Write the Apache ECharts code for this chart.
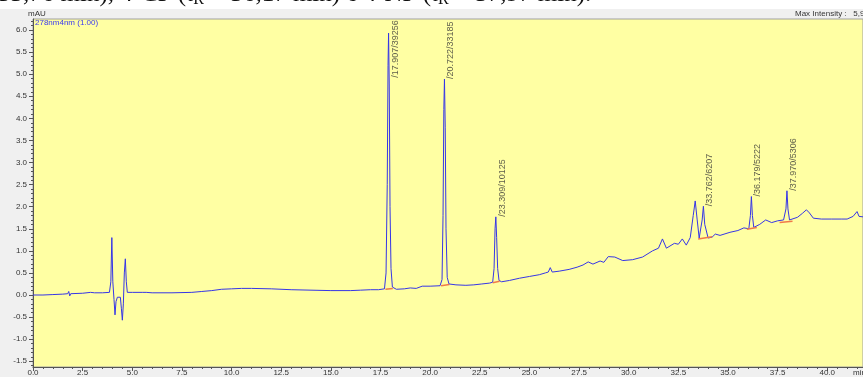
<!DOCTYPE html>
<html>
<head>
<meta charset="utf-8">
<script src="https://cdn.jsdelivr.net/npm/echarts@6/dist/echarts.min.js"></script>
<style>
  html, body { margin: 0; padding: 0; background: #fff; overflow: hidden; }
  #chart { width: 863px; height: 377px; }
</style>
</head>
<body>
<div id="chart"></div>
<script>
// chromatogram trace [time (min), absorbance (mAU)]
const trace = [
  [0, 0.0], [0.5, 0.0], [1.0, 0.01], [1.5, 0.02], [1.75, 0.03], [1.8, 0.08], [1.85, -0.02], [1.9, 0.03],
  [2.5, 0.04], [2.9, 0.06], [3.1, 0.05], [3.5, 0.05], [3.85, 0.06],
  [3.92, 0.3], [3.97, 1.3], [4.02, 0.3], [4.08, -0.1], [4.13, -0.45], [4.18, -0.15], [4.25, -0.05],
  [4.4, -0.05], [4.45, -0.3], [4.5, -0.57], [4.55, -0.2], [4.6, 0.5], [4.65, 0.82], [4.7, 0.3], [4.75, 0.06],
  [5.0, 0.06], [5.5, 0.06], [5.6, 0.1], [5.7, 0.06], [6.0, 0.05], [7.0, 0.05], [8.0, 0.06], [8.5, 0.08],
  [9.0, 0.1], [9.5, 0.13], [10.0, 0.14], [10.5, 0.15], [11.0, 0.15], [12.0, 0.14], [13.0, 0.12], [14.0, 0.11],
  [15.0, 0.1], [16.0, 0.1], [16.5, 0.11], [17.0, 0.12], [17.4, 0.12], [17.7, 0.14],
  [17.78, 0.5], [17.84, 2.5], [17.88, 5.2], [17.907, 5.93], [17.94, 4.8], [17.98, 2.0], [18.03, 0.6], [18.1, 0.18],
  [18.3, 0.13], [18.7, 0.14], [19.0, 0.16], [19.3, 0.15], [19.6, 0.2], [20.0, 0.2], [20.5, 0.21],
  [20.6, 0.35], [20.65, 1.8], [20.69, 4.2], [20.722, 4.89], [20.76, 3.8], [20.8, 1.5], [20.86, 0.4], [20.95, 0.25],
  [21.3, 0.23], [21.8, 0.22], [22.2, 0.23], [22.6, 0.25], [23.0, 0.27], [23.15, 0.29],
  [23.22, 0.6], [23.27, 1.5], [23.309, 1.77], [23.35, 1.3], [23.4, 0.6], [23.47, 0.33],
  [23.6, 0.3], [24.0, 0.33], [24.5, 0.38], [25.0, 0.42], [25.5, 0.46], [25.8, 0.5], [25.95, 0.52], [26.05, 0.62],
  [26.15, 0.52], [26.5, 0.54], [27.0, 0.58], [27.4, 0.63], [27.7, 0.68], [27.96, 0.75], [28.2, 0.7],
  [28.56, 0.77], [28.75, 0.74], [28.97, 0.87], [29.3, 0.86], [29.7, 0.78], [30.2, 0.8], [30.7, 0.86],
  [31.2, 1.0], [31.5, 1.06], [31.7, 1.27], [31.9, 1.06], [32.3, 1.17], [32.5, 1.15], [32.7, 1.27],
  [32.9, 1.13], [33.1, 1.3], [33.25, 1.8], [33.35, 2.13], [33.45, 1.7], [33.55, 1.29],
  [33.7, 1.7], [33.762, 2.01], [33.83, 1.6], [34.0, 1.29], [34.2, 1.31], [34.36, 1.38], [34.6, 1.35],
  [35.1, 1.42], [35.5, 1.46], [35.8, 1.52], [36.05, 1.5], [36.13, 1.8], [36.179, 2.23], [36.23, 1.8],
  [36.3, 1.53], [36.6, 1.6], [36.9, 1.7], [37.2, 1.64], [37.5, 1.68], [37.8, 1.7], [37.92, 1.95],
  [37.97, 2.36], [38.02, 1.95], [38.1, 1.7], [38.5, 1.76], [38.75, 1.85], [38.95, 1.93], [39.1, 1.86],
  [39.3, 1.74], [39.7, 1.72], [40.2, 1.72], [40.7, 1.72], [41.0, 1.72], [41.3, 1.78], [41.5, 1.89],
  [41.6, 1.78], [41.8, 1.77]
];

// integrated peaks: retention time, height, area
const peakTimes = [17.907, 20.722, 23.309, 33.762, 36.179, 37.970];
const peakHeights = [5.93, 4.89, 1.77, 2.01, 2.23, 2.36];
const peakAreas = [39256, 33185, 10125, 6207, 5222, 5306];

// integration baselines [start time, start value, end time, end value]
const baselines = [
  [17.75, 0.13, 18.12, 0.15],
  [20.55, 0.21, 20.97, 0.24],
  [23.15, 0.28, 23.5, 0.31],
  [33.5, 1.27, 34.2, 1.32],
  [35.95, 1.49, 36.45, 1.53],
  [37.6, 1.64, 38.25, 1.67]
];

const yTicks = [-1.5, -1.0, -0.5, 0.0, 0.5, 1.0, 1.5, 2.0, 2.5, 3.0, 3.5, 4.0, 4.5, 5.0, 5.5, 6.0];

const yMin = -1.63, yMax = 6.25;
const labelRoom = 1.33; // vertical space a peak label needs, in mAU

const yMinor = [];
for (let v = -1.6; v <= 6.21; v += 0.1) yMinor.push(Math.round(v * 10) / 10);

const axisFont = { fontSize: 8, color: '#333', fontFamily: 'Liberation Sans, Arial, sans-serif' };

let myChart = echarts.init(document.getElementById('chart'));
myChart.setOption({
  animation: false,
  backgroundColor: '#fff',
  graphic: [
    { type: 'rect', z: -10, shape: { x: 0, y: 9, width: 863, height: 368 }, style: { fill: '#f0f0f0' } },
    {
      // caption line of the surrounding document, mostly cut off at the top
      type: 'text', x: -2, y: -20, z: -20,
      style: {
        text: '33,76 min), 4-CP (t{s|R} = 36,17 min) e 4-NP (t{s|R} = 37,97 min).',
        font: '25px "Liberation Serif", "Times New Roman", serif',
        fill: '#111',
        rich: { s: { fontSize: 16, fontFamily: 'Liberation Serif', padding: [12, 0, 0, 0] } }
      }
    },
    { type: 'text', left: 28, top: 10, style: { text: 'mAU', font: '8px "Liberation Sans", Arial', fill: '#333' } },
    { type: 'text', left: 35, top: 19, z: 10, style: { text: '278nm4nm (1.00)', font: '8px "Liberation Sans", Arial', fill: '#3a3af0' } },
    { type: 'text', left: 795, top: 10, style: { text: 'Max Intensity :   5,935', font: '8px "Liberation Sans", Arial', fill: '#333' } },
    { type: 'text', left: 853, top: 369, style: { text: 'min', font: '8px "Liberation Sans", Arial', fill: '#333' } }
  ],
  grid: {
    left: 33, right: 0, top: 19, bottom: 10,
    show: true, backgroundColor: '#ffffa3', borderColor: '#a0a0a0', borderWidth: 1
  },
  xAxis: {
    type: 'value', min: 0, max: 41.8, interval: 2.5,
    axisLine: { onZero: false, lineStyle: { color: '#555' } },
    axisTick: { length: 4, lineStyle: { color: '#555' } },
    minorTick: { show: true, splitNumber: 5, length: 2, lineStyle: { color: '#555' } },
    splitLine: { show: false },
    axisLabel: Object.assign({ margin: 2, showMaxLabel: false, formatter: v => v.toFixed(1) }, axisFont)
  },
  yAxis: [
    {
      type: 'value', min: yMin, max: yMax,
      axisLine: { show: true, onZero: false, lineStyle: { color: '#555' } },
      axisTick: { show: true, length: 4, customValues: yTicks, lineStyle: { color: '#555' } },
      splitLine: { show: false },
      axisLabel: Object.assign({ margin: 6, customValues: yTicks, formatter: v => v.toFixed(1) }, axisFont)
    },
    {
      type: 'value', min: yMin, max: yMax, position: 'left',
      axisLine: { show: false, onZero: false },
      axisTick: { show: true, length: 2, customValues: yMinor, lineStyle: { color: '#555' } },
      axisLabel: { show: false },
      splitLine: { show: false }
    }
  ],
  series: [
    {
      name: 'trace',
      type: 'line',
      data: trace,
      showSymbol: false,
      lineStyle: { color: '#3636e6', width: 1 },
      z: 3
    },
    {
      name: 'baselines',
      type: 'lines',
      coordinateSystem: 'cartesian2d',
      data: baselines.map(b => ({ coords: [[b[0], b[1]], [b[2], b[3]]] })),
      lineStyle: { color: '#f07a4a', width: 1.5, opacity: 1 },
      z: 4
    },
    {
      name: 'labels',
      type: 'scatter',
      symbolSize: 0,
      data: peakTimes.map((t, i) => [t, Math.min(peakHeights[i], yMax - labelRoom), peakAreas[i]]),
      label: {
        show: true,
        position: [2, 0],
        rotate: 90,
        align: 'left',
        verticalAlign: 'top',
        fontSize: 9,
        fontFamily: 'Liberation Sans, Arial, sans-serif',
        color: '#333',
        formatter: p => '/' + p.value[0].toFixed(3) + '/' + p.value[2]
      },
      z: 5
    }
  ]
});
</script>
</body>
</html>
